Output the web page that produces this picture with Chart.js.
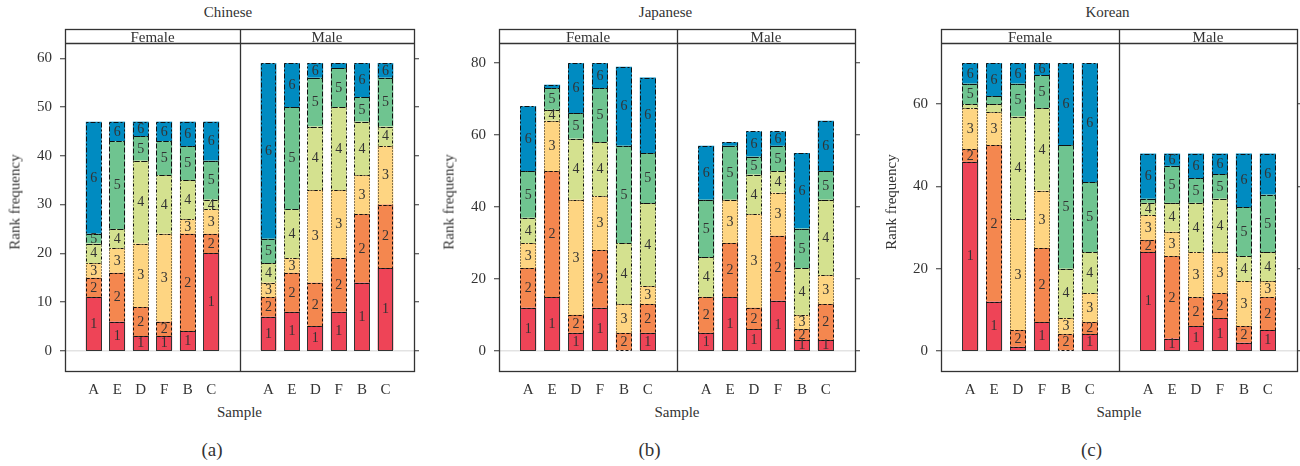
<!DOCTYPE html>
<html><head><meta charset="utf-8">
<script src="https://cdn.jsdelivr.net/npm/chart.js@4.4.1/dist/chart.umd.min.js"></script>
<style>
html,body{margin:0;padding:0;background:#fff;}
body{width:1300px;height:466px;position:relative;overflow:hidden;font-family:'Liberation Serif','DejaVu Serif',serif;color:#333;}
.box{position:absolute;}
.txt{position:absolute;white-space:nowrap;line-height:1;transform:translateX(-50%);}
.ytitle{position:absolute;white-space:nowrap;line-height:1;font-size:15px;transform:translate(-50%,-50%) rotate(-90deg);}
#overlay{position:absolute;left:0;top:0;pointer-events:none;z-index:5;}
</style></head><body>
<script>
// ---------- data ----------
const samples = ['A','E','D','F','B','C'];
const ranks = ['1','2','3','4','5','6'];
const sexes = ['Female','Male'];

// rows: rank 1..6 ; columns: samples in the order above
const chineseFemale = [
  [11, 6, 3, 3, 4,20],
  [ 4,10, 6, 3,20, 4],
  [ 3, 5,13,18, 3, 5],
  [ 4, 4,17,12, 8, 2],
  [ 2,18, 5, 7, 7, 8],
  [23, 4, 3, 4, 5, 8]
];
const chineseMale = [
  [ 7, 8, 5, 8,14,17],
  [ 4, 8, 9,11,14,13],
  [ 3, 3,19,14, 8,12],
  [ 4,10,13,17,11, 4],
  [ 5,21,10, 8, 5,10],
  [36, 9, 3, 1, 7, 3]
];
const japaneseFemale = [
  [12,15, 5,12, 0, 5],
  [11,35, 5,16, 5, 8],
  [ 7,14,32,15, 8, 5],
  [ 7, 3,17,15,17,23],
  [13, 6, 7,15,27,14],
  [18, 1,14, 7,22,21]
];
const japaneseMale = [
  [ 5,15, 6,14, 3, 3],
  [10,15, 6,18, 3,10],
  [ 0,12,26,12, 4, 8],
  [11, 0,11, 6,13,21],
  [16,15, 5, 7,11, 8],
  [15, 1, 7, 4,21,14]
];
const koreanFemale = [
  [46,12, 1, 7, 0, 4],
  [ 3,38, 4,18, 4, 3],
  [10, 8,27,14, 4, 7],
  [ 1, 2,25,20,12,10],
  [ 5, 2, 8, 8,30,17],
  [ 5, 8, 5, 3,20,29]
];
const koreanMale = [
  [24, 3, 6, 8, 2, 5],
  [ 3,20, 7, 6, 4, 8],
  [ 6, 6,11,10,11, 4],
  [ 3, 7,12,13, 6, 7],
  [ 1, 9, 6, 6,12,14],
  [11, 3, 6, 5,13,10]
];
const chineseStep = 10, japaneseStep = 20, koreanStep = 20;

// ---------- style / layout ----------
const FONT = "'Liberation Serif','DejaVu Serif',serif";
const fills = ['#EE4457','#F4874F','#FED582','#D4E18F','#6FC490','#008BC1'];
const dashes = [[], [3,2], [1,2], [1,2,3,2], [5,2], [2,2,5,2]];
const TOP = 29, STRIP = 43, BOTTOM = 371;
const panels = [
  {title:'Chinese', tag:'(a)', L:65,  M:240,  R:414,  facets:[chineseFemale, chineseMale], step:chineseStep},
  {title:'Japanese',tag:'(b)', L:499, M:677,  R:855,  facets:[japaneseFemale, japaneseMale], step:japaneseStep},
  {title:'Korean',  tag:'(c)', L:941, M:1119, R:1297, facets:[koreanFemale, koreanMale], step:koreanStep}
];

Chart.defaults.font.family = FONT;
Chart.defaults.color = '#333';

const segPlugin = {
  id: 'seg',
  afterDatasetsDraw(chart) {
    const ctx = chart.ctx;
    ctx.save();
    const labels = [];
    chart.data.datasets.forEach((ds, r) => {
      const meta = chart.getDatasetMeta(r);
      meta.data.forEach((el, i) => {
        const v = ds.data[i].y;
        if (!v) return;
        const p = el.getProps(['x','y','base','width'], true);
        const x0 = Math.round(p.x - p.width/2) + 0.5, x1 = Math.round(p.x + p.width/2) - 0.5;
        const y0 = Math.round(p.y) + 0.5, y1 = Math.round(p.base) + 0.5;
        ctx.setLineDash(dashes[r]);
        ctx.lineWidth = 1;
        ctx.strokeStyle = r === 0 ? '#333' : '#111';
        ctx.strokeRect(x0, y0, x1 - x0, y1 - y0);
        if (Math.abs(p.base - p.y) >= 9) labels.push([ranks[r], p.x, (p.y + p.base)/2]);
      });
    });
    ctx.setLineDash([]);
    ctx.font = '14px ' + FONT;
    ctx.fillStyle = '#333';
    ctx.textAlign = 'center';
    ctx.textBaseline = 'middle';
    labels.forEach(([t, x, y]) => ctx.fillText(t, x, y + 0.5));
    ctx.restore();
  }
};

function facetChart(counts, yMin, yMax, step, side, left, width) {
  const div = document.createElement('div');
  div.className = 'box';
  div.style.left = left + 'px';
  div.style.top = STRIP + 'px';
  const cv = document.createElement('canvas');
  const h = BOTTOM - STRIP + 30;
  cv.width = width; cv.height = h;
  cv.style.width = width + 'px'; cv.style.height = h + 'px';
  div.appendChild(cv);
  document.body.appendChild(div);
  new Chart(cv, {
    type: 'bar',
    data: {
      datasets: counts.map((vals, r) => ({
        label: ranks[r],
        data: vals.map((v, i) => ({x: i + 1, y: v})),
        backgroundColor: fills[r],
        borderWidth: 0,
        inflateAmount: 0,
        barPercentage: 0.67,
        categoryPercentage: 1
      }))
    },
    options: {
      responsive: false, animation: false, devicePixelRatio: 1,
      layout: {padding: 0},
      plugins: {legend: {display: false}, tooltip: {enabled: false}, title: {display: false}},
      scales: {
        x: {
          type: 'linear', min: 0.4, max: 6.6, stacked: true,
          grid: {display: false, drawTicks: false},
          border: {display: false},
          afterBuildTicks: s => { s.ticks = samples.map((_, i) => ({value: i + 1})); },
          ticks: {callback: (v, i) => samples[i], font: {size: 15}, color: '#333', padding: 10, autoSkip: false, maxRotation: 0},
          afterFit: s => { s.height = 30; s.paddingLeft = 0; s.paddingRight = 0; s.paddingTop = 0; s.paddingBottom = 0; }
        },
        y: {
          type: 'linear', min: yMin, max: yMax, stacked: true, position: side,
          grid: {
            drawOnChartArea: true, drawTicks: true, tickLength: 5,
            color: c => (c.tick && c.tick.value === 0) ? '#e3e3e3' : 'rgba(0,0,0,0)',
            lineWidth: 1.5, tickColor: '#333', tickWidth: 1
          },
          border: {display: false},
          afterBuildTicks: s => {
            const t = [];
            for (let v = 0; v <= yMax; v += step) t.push({value: v});
            s.ticks = t;
          },
          ticks: {display: side === 'left', font: {size: 15}, color: '#333', padding: 8, autoSkip: false,
                  callback: v => String(v)},
          afterFit: s => { s.width = side === 'left' ? 60 : 10; s.paddingTop = 0; s.paddingBottom = 0; s.paddingLeft = 0; s.paddingRight = 0; }
        }
      }
    },
    plugins: [segPlugin]
  });
}

function addText(str, cx, top, size) {
  const d = document.createElement('div');
  d.className = 'txt';
  d.textContent = str;
  d.style.left = cx + 'px';
  d.style.top = top + 'px';
  d.style.fontSize = size + 'px';
  document.body.appendChild(d);
}

const ov = document.createElement('canvas');
ov.id = 'overlay'; ov.width = 1300; ov.height = 466;
document.body.appendChild(ov);
const octx = ov.getContext('2d');
octx.strokeStyle = '#333';
octx.lineWidth = 1.3;

panels.forEach(pn => {
  const totals = pn.facets.flatMap(f => samples.map((_, i) => f.reduce((s, row) => s + row[i], 0)));
  const maxTotal = Math.max(...totals);
  const yMin = -0.07 * maxTotal, yMax = 1.07 * maxTotal;
  facetChart(pn.facets[0], yMin, yMax, pn.step, 'left', pn.L - 60, pn.M - pn.L + 60);
  facetChart(pn.facets[1], yMin, yMax, pn.step, 'right', pn.M, pn.R - pn.M + 10);
  // frame + strips
  octx.strokeRect(pn.L + 0.5, TOP + 0.5, pn.R - pn.L, BOTTOM - TOP);
  octx.beginPath();
  octx.moveTo(pn.L, STRIP + 0.5); octx.lineTo(pn.R, STRIP + 0.5);
  octx.moveTo(pn.M + 0.5, TOP); octx.lineTo(pn.M + 0.5, BOTTOM);
  octx.stroke();
  const cx = (pn.L + pn.R) / 2;
  addText(pn.title, cx - 11.5, 5.4, 15);
  addText(sexes[0], (pn.L + pn.M) / 2, 29.6, 15);
  addText(sexes[1], (pn.M + pn.R) / 2, 29.6, 15);
  addText('Sample', cx, 405.4, 15);
  addText(pn.tag, cx - 27.5, 439.7, 19);
  const yt = document.createElement('div');
  yt.className = 'ytitle';
  yt.textContent = 'Rank frequency';
  yt.style.left = (pn.L - 50) + 'px';
  yt.style.top = ((STRIP + BOTTOM) / 2 - 5) + 'px';
  document.body.appendChild(yt);
});
</script>
</body></html>
